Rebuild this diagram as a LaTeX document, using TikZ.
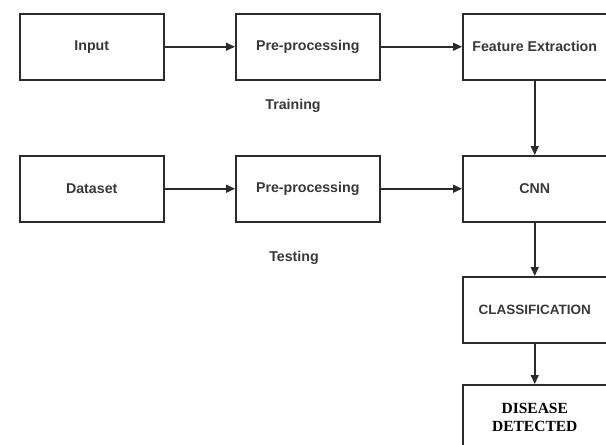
\documentclass[tikz,border=0pt]{standalone}
\usepackage{fontspec}
\setmainfont{Liberation Sans}
\newfontfamily\headserif{Liberation Serif}
\usetikzlibrary{arrows.meta}
\definecolor{ink}{HTML}{2B2B2B}
\definecolor{txt}{HTML}{383838}
\tikzset{
  stage/.style={draw=ink, line width=1.5pt, minimum width=144pt, minimum height=66pt,
    inner sep=0pt, anchor=north west, text=txt,
    font=\fontsize{14.2}{16}\selectfont\bfseries},
  flow/.style={draw=ink, line width=1.5pt, -{Triangle[length=9pt,width=8pt]}},
  phase/.style={text=txt, font=\fontsize{14.2}{16}\selectfont\bfseries}
}
\begin{document}
\begin{tikzpicture}[x=1pt, y=-1pt]
  \useasboundingbox (0,0) rectangle (606,445);
  \clip (0,0) rectangle (606,445);
  \fill[white] (0,0) rectangle (606,445);

  % training row
  \node[stage] (input) at (19,13) {Input};
  \node[stage] (prea)  at (235,13) {Pre-processing};
  \node[stage] (feat)  at (462,13) {Feature Extraction};
  \node[phase] (train) at (293,106) {Training};

  % testing row
  \node[stage] (data) at (19,155) {Dataset};
  \node[stage] (preb) at (235,155) {Pre-processing};
  \node[stage] (cnn)  at (462,155) {CNN};
  \node[phase] (test) at (294,258) {Testing};

  % output column
  \node[stage, font=\fontsize{13.5}{16}\selectfont\bfseries] (cls) at (462,276) {CLASSIFICATION};
  \node[stage, align=center, font=\headserif\fontsize{15.5}{18}\selectfont\bfseries, text=black]
    (dis) at (462,384) {DISEASE\\DETECTED};

  % connectors
  \draw[flow] (input) -- (prea);
  \draw[flow] (prea) -- (feat);
  \draw[flow] (feat) -- (cnn);
  \draw[flow] (data) -- (preb);
  \draw[flow] (preb) -- (cnn);
  \draw[flow] (cnn) -- (cls);
  \draw[flow] (cls) -- (dis);
\end{tikzpicture}
\end{document}
